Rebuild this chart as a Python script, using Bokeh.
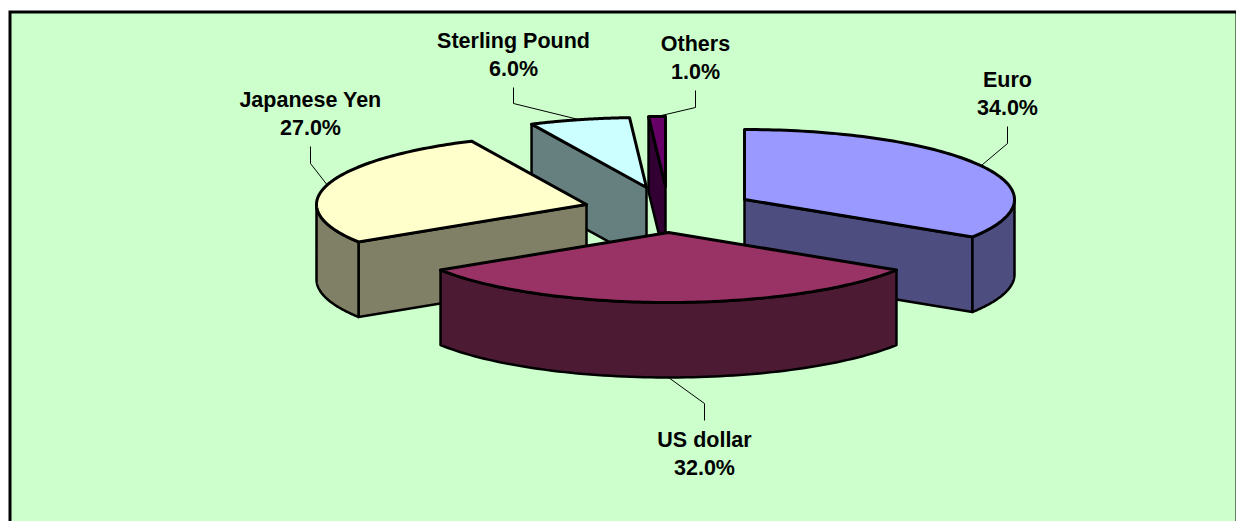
import numpy as np
from bokeh.plotting import figure
from bokeh.models import Range1d, ColumnDataSource
from bokeh.core.properties import value
from bokeh.embed import file_html
from bokeh.resources import INLINE

# data
categories = ["Euro", "US dollar", "Japanese Yen", "Sterling Pound", "Others"]
shares = [34.0, 32.0, 27.0, 6.0, 1.0]
top_colors = ["#9999FF", "#993366", "#FFFFCC", "#CCFFFF", "#660066"]
side_colors = ["#4D4D80", "#4D1A33", "#808066", "#668080", "#330033"]

# pie layout (exploded slices), in page pixels
apex_x = [744, 668, 586, 646, 665]
apex_y = [199, 232, 204, 187, 186]
label_x = [1007, 704, 310, 513, 695]
label_y = [79, 439, 99, 40, 43]
leader_x = [1007, 704, 310, 513, 695]
leader_y0 = [126, 420, 146, 87, 90]
leader_y1 = [143, 403, 163, 103, 107]
RX, RY, DEPTH = 270, 70, 75
LINE_GAP = 28.5
draw_order = [4, 3, 0, 2, 1]

W, H = 1236, 521
p = figure(width=W, height=H, output_backend="svg", toolbar_location=None,
           x_range=Range1d(0, W), y_range=Range1d(H, 0),
           min_border=0, outline_line_color=None,
           background_fill_color="white", border_fill_color="white",
           x_axis_type=None, y_axis_type=None)
p.grid.visible = False

# chart area and frame
p.quad(left=[9.5], right=[W + 0.5], top=[11.5], bottom=[H + 15], fill_color="#CCFFCC",
       line_color="black", line_width=3, line_join="miter")


def edge(cx, cy, deg):
    a = np.radians(deg)
    return cx + RX * np.sin(a), cy - RY * np.cos(a)


ends = np.cumsum(shares) * 3.6
starts = ends - np.array(shares) * 3.6

for i in draw_order:
    cx, cy = apex_x[i], apex_y[i]
    s, e = starts[i], ends[i]
    xs, ys, cols = [], [], []
    # visible cut faces
    if 180 < s < 360:
        ox, oy = edge(cx, cy, s)
        xs.append([ox, cx, cx, ox])
        ys.append([oy, cy, cy + DEPTH, oy + DEPTH])
        cols.append(side_colors[i])
    if 0 < e < 180:
        ox, oy = edge(cx, cy, e)
        xs.append([ox, cx, cx, ox])
        ys.append([oy, cy, cy + DEPTH, oy + DEPTH])
        cols.append(side_colors[i])
    # visible outer rim
    a0, a1 = max(s, 90), min(e, 270)
    if a1 > a0:
        t = np.linspace(a0, a1, 80)
        ox, oy = edge(cx, cy, t)
        xs.append(list(ox) + list(ox[::-1]))
        ys.append(list(oy) + list((oy + DEPTH)[::-1]))
        cols.append(side_colors[i])
    p.patches(xs, ys, fill_color=cols, line_color="black", line_width=2.5, line_join="round")
    # top face
    t = np.linspace(s, e, 100)
    ox, oy = edge(cx, cy, t)
    p.patch(list(ox) + [cx], list(oy) + [cy], fill_color=top_colors[i], line_color="black",
            line_width=3, line_join="round")

# leaders and labels
for i in range(len(categories)):
    mid = (starts[i] + ends[i]) / 2
    mx, my = edge(apex_x[i], apex_y[i], mid)
    if 90 < mid < 270:
        my += DEPTH
    p.line([leader_x[i], leader_x[i], mx], [leader_y0[i], leader_y1[i], my],
           line_color="black", line_width=1)

src = ColumnDataSource(dict(
    x=label_x + label_x,
    y=label_y + [v + LINE_GAP for v in label_y],
    t=categories + [f"{v:.1f}%" for v in shares],
))
p.text(x="x", y="y", text="t", source=src, text_align="center", text_baseline="middle",
       text_color="black", text_font=value("Liberation Sans"), text_font_style="bold",
       text_font_size="21.5px")

open("out.html", "w").write(file_html(p, INLINE))
